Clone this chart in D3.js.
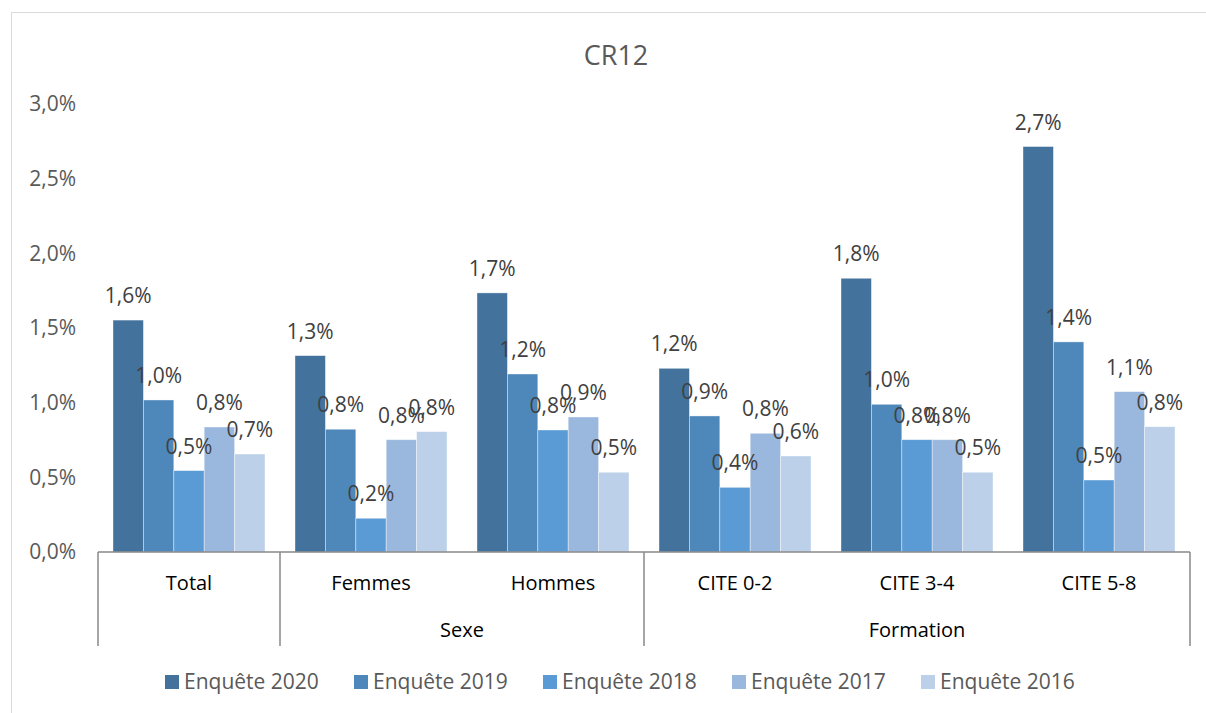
<!DOCTYPE html>
<html>
<head>
<meta charset="utf-8">
<script src="https://cdn.jsdelivr.net/npm/d3@7"></script>
<style>
  body { margin: 0; background: #fff; }
  svg text { font-family: "Open Sans", sans-serif; }
</style>
</head>
<body>
<svg id="chart"></svg>
<script>
// categories and their parent group (multi-level axis)
const categories = ["Total", "Femmes", "Hommes", "CITE 0-2", "CITE 3-4", "CITE 5-8"]
const parents = ["", "Sexe", "Sexe", "Formation", "Formation", "Formation"]

const series = ["Enquête 2020", "Enquête 2019", "Enquête 2018", "Enquête 2017", "Enquête 2016"]

// values in %
const v2020 = [1.553, 1.315, 1.735, 1.230, 1.833, 2.715]
const v2019 = [1.018, 0.822, 1.192, 0.911, 0.989, 1.407]
const v2018 = [0.545, 0.226, 0.817, 0.433, 0.752, 0.482]
const v2017 = [0.837, 0.752, 0.904, 0.795, 0.752, 1.074]
const v2016 = [0.656, 0.806, 0.534, 0.643, 0.534, 0.839]

const yTicks = [0, 0.5, 1, 1.5, 2, 2.5, 3]

const width = 1206
const height = 713
const margin = {top: 104, right: 16, bottom: 161, left: 98}

const colors = new Map()
  .set("Enquête 2020", "#43729d")
  .set("Enquête 2019", "#4e87ba")
  .set("Enquête 2018", "#5b9bd5")
  .set("Enquête 2017", "#9ab8de")
  .set("Enquête 2016", "#bdd0e9")

const fr = d3.formatLocale({decimal: ",", thousands: " ", grouping: [3], currency: ["", " €"], percent: "%"})
const pct = fr.format(".1%")

const allValues = [v2020, v2019, v2018, v2017, v2016]
const data = categories.map((c, i) => ({
  name: c,
  parent: parents[i],
  values: series.map((s, j) => ({key: s, value: allValues[j][i]}))
}))

const svg = d3.select("#chart")
  .attr("width", width)
  .attr("height", height)

// chart area border
svg.append("rect")
  .attr("x", 11.5).attr("y", 12.5)
  .attr("width", width + 10).attr("height", height + 10)
  .attr("fill", "none")
  .attr("stroke", "#d9d9d9")

// title
svg.append("text")
  .attr("x", 616).attr("y", 65)
  .attr("text-anchor", "middle")
  .attr("fill", "#595959")
  .style("font-size", "27px")
  .text("CR12")

const x0 = d3.scaleBand()
  .domain(categories)
  .range([margin.left, width - margin.right])

// 5 bars fill 152 of the 182 px band
const x1 = d3.scaleBand()
  .domain(series)
  .range([15, x0.bandwidth() - 15])
  .padding(0)

const y = d3.scaleLinear()
  .domain([0, 3])
  .range([height - margin.bottom, margin.top])

// y axis labels
svg.append("g")
  .selectAll("text")
  .data(yTicks)
  .join("text")
    .attr("x", 76)
    .attr("y", d => y(d))
    .attr("dy", "0.35em")
    .attr("text-anchor", "end")
    .attr("fill", "#595959")
    .style("font-size", "21px")
    .text(d => pct(d / 100))

// bars
const groups = svg.append("g")
  .selectAll("g")
  .data(data)
  .join("g")
    .attr("transform", d => `translate(${x0(d.name)},0)`)

groups.selectAll("rect")
  .data(d => d.values)
  .join("rect")
    .attr("x", d => x1(d.key))
    .attr("y", d => y(d.value))
    .attr("width", x1.bandwidth())
    .attr("height", d => y(0) - y(d.value))
    .attr("fill", d => colors.get(d.key))
    .attr("stroke", "#ffffff")
    .attr("stroke-opacity", 0.5)
    .attr("stroke-width", 0.75)

// value labels
groups.selectAll("text")
  .data(d => d.values)
  .join("text")
    .attr("x", d => x1(d.key) + x1.bandwidth() / 2)
    .attr("y", d => y(d.value) - 17)
    .attr("text-anchor", "middle")
    .attr("fill", "#404040")
    .style("font-size", "21px")
    .text(d => pct(d.value / 100))

// category axis (multi-level)
const axisColor = "#898989"
const base = y(0)
const axis = svg.append("g")

axis.append("line")
  .attr("x1", margin.left).attr("x2", width - margin.right)
  .attr("y1", base).attr("y2", base)
  .attr("stroke", axisColor).attr("stroke-width", 1.5)

// separators between parent groups
const parentNames = Array.from(new Set(parents))
const spans = parentNames.map(p => {
  const members = categories.filter((c, i) => parents[i] === p)
  return {
    name: p,
    x1: x0(members[0]),
    x2: x0(members[members.length - 1]) + x0.bandwidth()
  }
})
const sepX = Array.from(new Set(spans.flatMap(s => [s.x1, s.x2])))

axis.selectAll("line.sep")
  .data(sepX)
  .join("line")
    .attr("class", "sep")
    .attr("x1", d => d).attr("x2", d => d)
    .attr("y1", base).attr("y2", base + 94)
    .attr("stroke", axisColor).attr("stroke-width", 1.5)

axis.selectAll("text.cat")
  .data(categories)
  .join("text")
    .attr("class", "cat")
    .attr("x", d => x0(d) + x0.bandwidth() / 2)
    .attr("y", base + 31)
    .attr("dy", "0.35em")
    .attr("text-anchor", "middle")
    .attr("fill", "#000")
    .style("font-size", "20px")
    .text(d => d)

axis.selectAll("text.parent")
  .data(spans.filter(s => s.name !== ""))
  .join("text")
    .attr("class", "parent")
    .attr("x", d => (d.x1 + d.x2) / 2)
    .attr("y", base + 78)
    .attr("dy", "0.35em")
    .attr("text-anchor", "middle")
    .attr("fill", "#000")
    .style("font-size", "20px")
    .text(d => d.name)

// legend
const legend = svg.append("g")
  .selectAll("g")
  .data(series)
  .join("g")
    .attr("transform", (d, i) => `translate(${165 + i * 189},675)`)

legend.append("rect")
  .attr("width", 14).attr("height", 14)
  .attr("fill", d => colors.get(d))

legend.append("text")
  .attr("x", 19).attr("y", 7)
  .attr("dy", "0.35em")
  .attr("fill", "#595959")
  .style("font-size", "21px")
  .text(d => d)
</script>
</body>
</html>
